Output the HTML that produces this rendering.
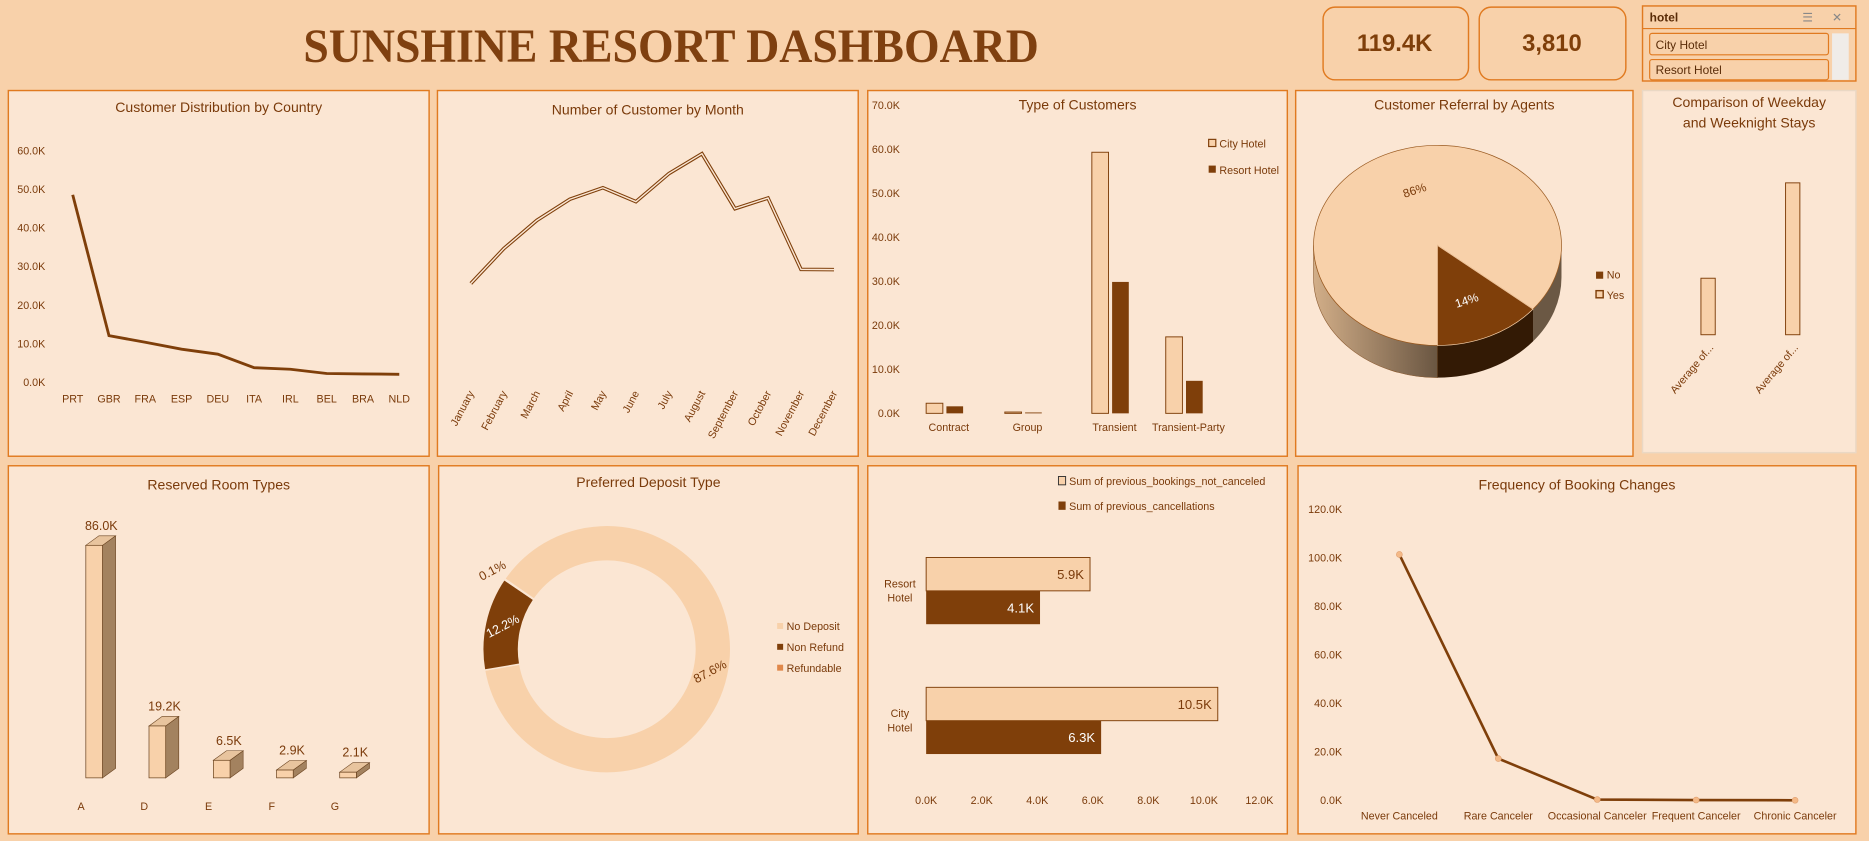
<!DOCTYPE html>
<html><head><meta charset="utf-8"><style>
html,body{margin:0;padding:0;background:#f8d1aa;overflow:hidden}
svg{display:block;font-family:"Liberation Sans",sans-serif}
</style></head><body>
<svg id="dash" width="1869" height="841" viewBox="0 0 1568 706" preserveAspectRatio="none" xmlns="http://www.w3.org/2000/svg">
<defs>
<linearGradient id="pieside" x1="0" x2="1" y1="0" y2="0"><stop offset="0" stop-color="#d2ae88"/><stop offset="1" stop-color="#6a5642"/></linearGradient>
</defs>
<rect x="0" y="0" width="1568" height="706" fill="#f8d1aa"/>
<text x="563" y="52" text-anchor="middle" font-family="Liberation Serif,serif" font-weight="bold" font-size="40" fill="#7f4010" textLength="617" lengthAdjust="spacingAndGlyphs">SUNSHINE RESORT DASHBOARD</text>
<g><rect x="1110" y="6" width="122" height="61" rx="10" fill="none" stroke="#e07a20" stroke-width="1.2"/><text x="1170" y="43" text-anchor="middle" font-size="20" font-weight="bold" fill="#7f3f0a">119.4K</text></g>
<g><rect x="1241" y="6" width="123" height="61" rx="10" fill="none" stroke="#e07a20" stroke-width="1.2"/><text x="1302" y="43" text-anchor="middle" font-size="20" font-weight="bold" fill="#7f3f0a">3,810</text></g>
<g>
<rect x="1378" y="5" width="179" height="63" fill="none" stroke="#e07a20" stroke-width="1.2"/>
<line x1="1378" y1="24" x2="1557" y2="24" stroke="#e07a20"/>
<text x="1384" y="18" font-size="10" font-weight="bold" fill="#5a2c08">hotel</text>
<text x="1512" y="18" font-size="10" fill="#888">☰</text>
<text x="1537" y="18" font-size="10" fill="#888">✕</text>
<rect x="1384" y="28" width="150" height="18" rx="2" fill="#f8d1aa" stroke="#e07a20"/>
<text x="1389" y="41" font-size="10" fill="#5a2c08">City Hotel</text>
<rect x="1384" y="50" width="150" height="17" rx="2" fill="#f8d1aa" stroke="#e07a20"/>
<text x="1389" y="62" font-size="10" fill="#5a2c08">Resort Hotel</text>
<rect x="1537" y="28" width="14" height="39" fill="#f0ece8"/>
</g>
<g id="root"></g>
</svg>
<script>
// ---- data ----
const countryCats = ["PRT","GBR","FRA","ESP","DEU","ITA","IRL","BEL","BRA","NLD"];
const countryVals = [48.6,12.1,10.4,8.6,7.3,3.8,3.4,2.3,2.2,2.1];
const countryTicks = ["0.0K","10.0K","20.0K","30.0K","40.0K","50.0K","60.0K"];
const monthCats = ["January","February","March","April","May","June","July","August","September","October","November","December"];
const monthVals = [5929,8068,9794,11089,11791,10939,12661,13877,10508,11160,6794,6780];
const custTypeCats = ["Contract","Group","Transient","Transient-Party"];
const custCityVals = [2.3,0.3,59.4,17.4];
const custResortVals = [1.6,0.2,29.9,7.4];
const custTicks = ["0.0K","10.0K","20.0K","30.0K","40.0K","50.0K","60.0K","70.0K"];
const agentCats = ["No","Yes"];
const agentVals = [14,86];
const stayCats = ["Average of...","Average of..."];
const stayVals = [0.93,2.5];
const roomCats = ["A","D","E","F","G"];
const roomVals = [86.0,19.2,6.5,2.9,2.1];
const depositCats = ["No Deposit","Non Refund","Refundable"];
const depositVals = [87.6,12.2,0.1];
const prevCats = ["Resort Hotel","City Hotel"];
const prevNotCanceled = [5.9,10.5];
const prevCanceled = [4.1,6.3];
const prevTicks = ["0.0K","2.0K","4.0K","6.0K","8.0K","10.0K","12.0K"];
const changeCats = ["Never Canceled","Rare Canceler","Occasional Canceler","Frequent Canceler","Chronic Canceler"];
const changeVals = [101.5,17.3,0.4,0.2,0.1];
const changeTicks = ["0.0K","20.0K","40.0K","60.0K","80.0K","100.0K","120.0K"];

const NS="http://www.w3.org/2000/svg";
const DARK="#7f3f0a", LIGHT="#f8d1aa", TXT="#7a3a0a", PANEL="#fbe6d3";
const root=document.getElementById('root');
function mk(tag,attrs,parent,text){const e=document.createElementNS(NS,tag);for(const k in attrs)e.setAttribute(k,attrs[k]);if(text!==undefined)e.textContent=text;(parent||root).appendChild(e);return e;}
function panel(x,y,w,h,name,title,stroke){const g=mk('g',{});
 const r=mk('rect',{x:x,y:y,width:w,height:h,fill:PANEL,stroke:stroke||"#e07a20","stroke-width":1.2},g);
 if(title){const lines=title.split('\n');lines.forEach((l,i)=>{const t=mk('text',{x:x+w/2,y:y+18+i*17,"text-anchor":"middle","font-size":11.8,fill:TXT},g,l);});}
 return g;}
function txt(g,x,y,s,opts){const a=Object.assign({x:x,y:y,"font-size":9,fill:TXT},opts||{});return mk('text',a,g,s);}

// ---- Panel 1: country line ----
(function(){const g=panel(7,76,353,307,'country-distribution-chart','Customer Distribution by Country');
 const y=v=>321-v*3.24, x=i=>61+i*30.44;
 countryTicks.forEach((t,i)=>{const e=txt(g,38,y(i*10)+3,t,{"text-anchor":"end"});});
 countryCats.forEach((c,i)=>{const e=txt(g,x(i),y(0)+17,c,{"text-anchor":"middle"});});
 const pl=mk('polyline',{points:countryVals.map((v,i)=>x(i)+','+y(v)).join(' '),fill:"none",stroke:DARK,"stroke-width":2.4},g);
 
})();

// ---- Panel 2: month line ----
(function(){const g=panel(367,76,353,307,'customers-by-month-chart','Number of Customer by Month');
 g.querySelector('text').setAttribute('y',96);
 const y=v=>319.3-v*0.013713, x=i=>395+i*27.7;
 const pts=monthVals.map((v,i)=>x(i)+','+y(v)).join(' ');
 const a=mk('polyline',{points:pts,fill:"none",stroke:DARK,"stroke-width":3},g);
 const b=mk('polyline',{points:pts,fill:"none",stroke:PANEL,"stroke-width":1.2},g);
 monthCats.forEach((c,i)=>{const e=txt(g,x(i)+3,330,c,{"text-anchor":"end",transform:`rotate(-62 ${x(i)+3} 330)`});});
})();

// ---- Panel 3: customer types ----
(function(){const g=panel(728,76,352,307,'customer-types-chart','Type of Customers');
 g.querySelector('text').setAttribute('y',92);
 const y=v=>347-v*3.69, xc=[796,862,935,997];
 custTicks.forEach((t,i)=>{const e=txt(g,755,y(i*10)+3,t,{"text-anchor":"end"});});
 custTypeCats.forEach((c,i)=>{const e=txt(g,xc[i],362,c,{"text-anchor":"middle"});
  const b1=mk('rect',{x:xc[i]-19,y:y(custCityVals[i]),width:14,height:custCityVals[i]*3.69,fill:LIGHT,stroke:DARK,"stroke-width":0.8},g);
  const b2=mk('rect',{x:xc[i]-2,y:y(custResortVals[i]),width:14,height:custResortVals[i]*3.69,fill:DARK},g);});
 const l1=mk('rect',{x:1014,y:117,width:6,height:6,fill:LIGHT,stroke:DARK},g);
 txt(g,1023,124,'City Hotel');
 const l2=mk('rect',{x:1014,y:139,width:6,height:6,fill:DARK},g);
 txt(g,1023,146,'Resort Hotel');
})();

// ---- Panel 4: 3D pie ----
(function(){const g=panel(1087,76,283,307,'agent-referral-chart','Customer Referral by Agents');
 g.querySelector('text').setAttribute('y',92);
 const cx=1206,cy=206,rx=104,ry=84,d=27;
 const P=(a,dy)=>[cx+rx*Math.cos(a),cy+ry*Math.sin(a)+(dy||0)];
 const total=agentVals[0]+agentVals[1];
 const a0=Math.PI/2, a1=a0-agentVals[0]/total*2*Math.PI;
 let p=P(0),q=P(Math.PI);
 const sideL=mk('path',{d:`M${P(a0)} A${rx} ${ry} 0 0 1 ${q} L${q[0]},${q[1]+d} A${rx} ${ry} 0 0 0 ${P(a0,d)} Z`,fill:"url(#pieside)",stroke:"#8a5a30","stroke-width":0.5},g);
 
 const sideR=mk('path',{d:`M${p} A${rx} ${ry} 0 0 1 ${P(a1>0?a1:0)} L${P(a1>0?a1:0,d)} A${rx} ${ry} 0 0 0 ${p[0]},${p[1]+d} Z`,fill:"#6b5844"},g);
 
 const s1=P(a1),s2=P(a0);
 const sideD=mk('path',{d:`M${s1} A${rx} ${ry} 0 0 1 ${s2} L${s2[0]},${s2[1]+d} A${rx} ${ry} 0 0 0 ${s1[0]},${s1[1]+d} Z`,fill:"#331a05"},g);
 
 const top=mk('path',{d:`M${cx},${cy} L${s2} A${rx} ${ry} 0 1 1 ${s1} Z`,fill:LIGHT,stroke:"#9a5a20","stroke-width":0.6},g);
 
 const dk=mk('path',{d:`M${cx},${cy} L${s1} A${rx} ${ry} 0 0 1 ${s2} Z`,fill:DARK,stroke:"#f8d1aa","stroke-width":0.6},g);
 
 const am=(a0+a1)/2, lp=[cx+rx*0.55*Math.cos(am),cy+ry*0.6*Math.sin(am)];
 txt(g,lp[0],lp[1]+4,agentVals[0]+'%',{"font-size":10,fill:"#fff","text-anchor":"middle",transform:`rotate(-18 ${lp[0]} ${lp[1]})`});
 const bm=am+Math.PI, bp=[cx+rx*0.5*Math.cos(bm)+4,cy+ry*0.5*Math.sin(bm)-5];
 txt(g,bp[0],bp[1],agentVals[1]+'%',{"font-size":10,"text-anchor":"middle",transform:`rotate(-18 ${bp[0]} ${bp[1]})`});
 const l1=mk('rect',{x:1339,y:228,width:6,height:6,fill:DARK},g);
 txt(g,1348,234,agentCats[0]);
 const l2=mk('rect',{x:1339,y:244,width:6,height:6,fill:LIGHT,stroke:DARK,"stroke-width":1.2},g);
 txt(g,1348,251,agentCats[1]);
})();

// ---- Panel 5: weekday/weeknight ----
(function(){const g=panel(1378,76,179,304,'weekday-weeknight-chart','Comparison of Weekday\nand Weeknight Stays','#ead8c4');
 g.querySelectorAll('text')[0].setAttribute('y',90);g.querySelectorAll('text')[1].setAttribute('y',107);
 const xs=[1433,1504];
 stayVals.forEach((v,i)=>{const b=mk('rect',{x:xs[i]-6,y:281-v*51,width:12,height:v*51,fill:LIGHT,stroke:DARK,"stroke-width":0.8},g);
  const t=txt(g,xs[i]+5,292,stayCats[i],{"text-anchor":"end",transform:`rotate(-50 ${xs[i]+5} 292)`});});
})();

// ---- Panel 6: room types 3D columns ----
(function(){const g=panel(7,391,353,309,'reserved-room-types-chart','Reserved Room Types');
 g.querySelector('text').setAttribute('y',411);
 const base=653,k=2.27,xs=[79,132,186,239,292],w=14,dx=11,dy=8;
 roomVals.forEach((v,i)=>{const x0=xs[i]-w/2,t=base-v*k;
  const side=mk('path',{d:`M${x0+w},${t} l${dx},${-dy} L${x0+w+dx},${base-dy} L${x0+w},${base} Z`,fill:"#a3825f",stroke:"#6b4420","stroke-width":0.5},g);
  const tp=mk('path',{d:`M${x0},${t} l${dx},${-dy} l${w},0 l${-dx},${dy} Z`,fill:"#e8c49e",stroke:"#6b4420","stroke-width":0.5},g);
  const fr=mk('rect',{x:x0,y:t,width:w,height:v*k,fill:LIGHT,stroke:"#6b4420","stroke-width":0.6},g);
  const lb=txt(g,xs[i]+6,t-dy-5,v.toFixed(1)+'K',{"font-size":10.5,"text-anchor":"middle"});
  const c=txt(g,xs[i]-11,680,roomCats[i],{"text-anchor":"middle"});});
})();

// ---- Panel 7: donut ----
(function(){const g=panel(368,391,352,309,'deposit-type-chart','Preferred Deposit Type');
 g.querySelector('text').setAttribute('y',409);
 const cx=509,cy=545,R=104,r=74,sy=1;
 const cols=[LIGHT,DARK,"#e0884a"];
 const tot=depositVals.reduce((a,b)=>a+b,0);
 let ang=-55.4;
 const pt=(deg,rad)=>{const a=(deg-90)*Math.PI/180;return [cx+rad*Math.cos(a),cy+rad*sy*Math.sin(a)];};
 depositVals.forEach((v,i)=>{const sweep=v/tot*360,e=ang+sweep,large=sweep>180?1:0;
  const o1=pt(ang,R),o2=pt(e,R),i1=pt(e,r),i2=pt(ang,r);
  const pth=mk('path',{d:`M${o1} A${R} ${R*sy} 0 ${large} 1 ${o2} L${i1} A${r} ${r*sy} 0 ${large} 0 ${i2} Z`,fill:cols[i],stroke:"#fbe6d3","stroke-width":1.2},g);
  
  const mid=ang+sweep/2;let lp=pt(mid,(R+r)/2);
  if(i===2)lp=pt(mid,R+12);
  const lab=txt(g,lp[0],lp[1]+3,v.toFixed(1)+'%',{"font-size":10.5,"text-anchor":"middle",fill:i===1?"#fff":TXT,transform:`rotate(-28 ${lp[0]} ${lp[1]})`});
  
  ang=e;});
 depositCats.forEach((c,i)=>{const s=mk('rect',{x:652,y:523+i*17.5,width:5,height:5,fill:cols[i]},g);
  txt(g,660,529+i*17.5,c);});
})();

// ---- Panel 8: previous bookings horizontal bars ----
(function(){const g=panel(728,391,352,309,'previous-bookings-chart',null);
 const x=v=>777+v*23.3, yc=[496,605], bh=28;
 const l1=mk('rect',{x:888,y:400,width:6,height:7,fill:LIGHT,stroke:"#333","stroke-width":0.8},g);
 txt(g,897,407,'Sum of previous_bookings_not_canceled');
 const l2=mk('rect',{x:888,y:421,width:6,height:7,fill:DARK},g);
 txt(g,897,428,'Sum of previous_cancellations');
 prevTicks.forEach((t,i)=>{const e=txt(g,x(i*2),675,t,{"text-anchor":"middle"});});
 prevCats.forEach((c,i)=>{const w=c.split(' ');txt(g,755,yc[i]-3,w[0],{"text-anchor":"middle"});txt(g,755,yc[i]+9,w[1],{"text-anchor":"middle"});
  const b1=mk('rect',{x:x(0),y:yc[i]-bh,width:prevNotCanceled[i]*23.3,height:bh,fill:LIGHT,stroke:DARK,"stroke-width":0.8},g);
  txt(g,x(prevNotCanceled[i])-5,yc[i]-10,prevNotCanceled[i].toFixed(1)+'K',{"font-size":11,"text-anchor":"end"});
  const b2=mk('rect',{x:x(0),y:yc[i],width:prevCanceled[i]*23.3,height:bh,fill:DARK},g);
  txt(g,x(prevCanceled[i])-5,yc[i]+18,prevCanceled[i].toFixed(1)+'K',{"font-size":11,"text-anchor":"end",fill:"#fff"});});
})();

// ---- Panel 9: booking changes ----
(function(){const g=panel(1089,391,468,309,'booking-changes-chart','Frequency of Booking Changes');
 g.querySelector('text').setAttribute('y',411);
 const y=v=>672-v*2.035, x=i=>1174+i*83;
 changeTicks.forEach((t,i)=>{const e=txt(g,1126,y(i*20)+3,t,{"text-anchor":"end"});});
 changeCats.forEach((c,i)=>{const e=txt(g,x(i),688,c,{"text-anchor":"middle"});});
 const pl=mk('polyline',{points:changeVals.map((v,i)=>x(i)+','+y(v)).join(' '),fill:"none",stroke:DARK,"stroke-width":2.2},g);
 changeVals.forEach((v,i)=>{const c=mk('circle',{cx:x(i),cy:y(v),r:2.5,fill:"#f4b987",stroke:"#e0a070","stroke-width":0.5},g);});
})();
</script>
</body></html>
